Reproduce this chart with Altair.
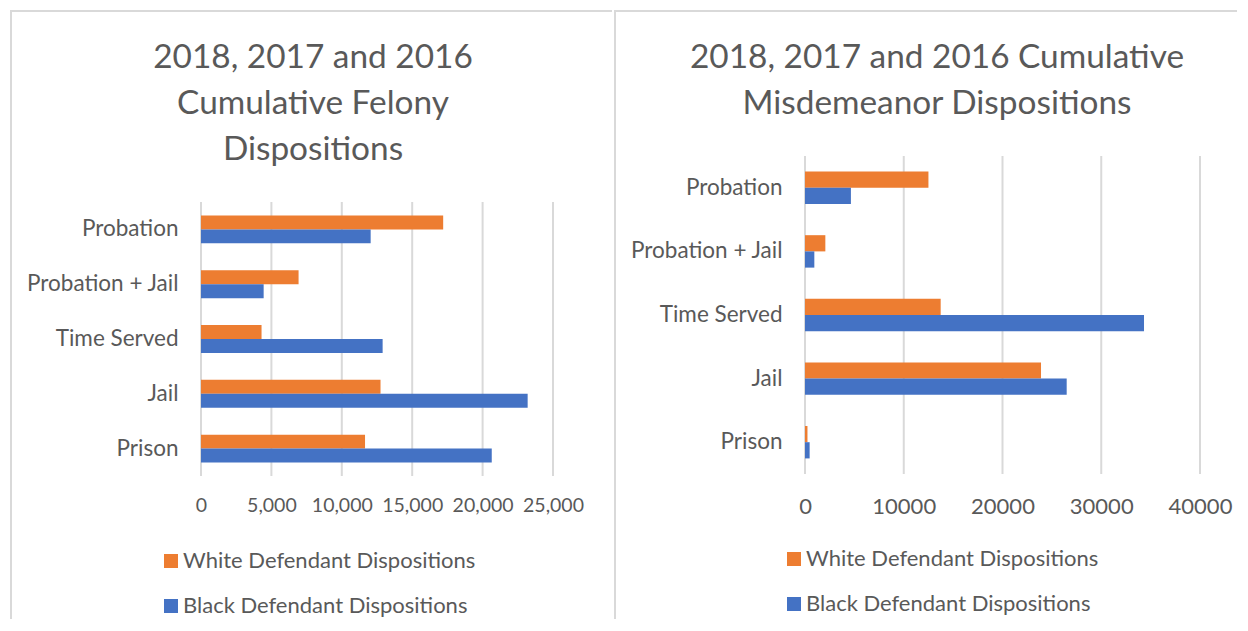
import altair as alt
import pandas as pd

FONT = "Lato"
TEXT = "#595959"
GRID = "#d9d9d9"

categories = ["Probation", "Probation + Jail", "Time Served", "Jail", "Prison"]
series = ["White Defendant Dispositions", "Black Defendant Dispositions"]
colors = ["#ED7D31", "#4472C4"]

felony_white = [17200, 6930, 4300, 12750, 11650]
felony_black = [12050, 4450, 12900, 23200, 20650]
misd_white = [12500, 2060, 13740, 23900, 250]
misd_black = [4650, 945, 34330, 26500, 470]

felony_title = ["2018, 2017 and 2016", "Cumulative  Felony", "Dispositions"]
misd_title = ["2018, 2017 and 2016 Cumulative", "Misdemeanor Dispositions"]

felony_ticks = [0, 5000, 10000, 15000, 20000, 25000]
misd_ticks = [0, 10000, 20000, 30000, 40000]


def table(white, black):
    rows = []
    for c, v in zip(categories, white):
        rows.append({"category": c, "series": series[0], "value": v})
    for c, v in zip(categories, black):
        rows.append({"category": c, "series": series[1], "value": v})
    return pd.DataFrame(rows)


one = pd.DataFrame({"k": [0]})


def panel(df, w, h, y0, ticks, fmt, xfs, title, tx, ty, lx, ly, box, lpad_x):
    left, top, right, bottom = box
    xscale = alt.Scale(domain=[ticks[0], ticks[-1]], nice=False)
    grid = alt.Chart(pd.DataFrame({"value": ticks})).mark_rule(
        color=GRID, strokeWidth=2).encode(
        x=alt.X("value:Q", scale=xscale),
        y=alt.value(y0), y2=alt.value(h))
    bars = alt.Chart(df).mark_bar().encode(
        y=alt.Y("category:N", sort=categories,
                scale=alt.Scale(paddingInner=0.49, paddingOuter=0.245,
                                range=[y0, h]),
                axis=alt.Axis(title=None, labelFontSize=22.5, labelFont=FONT,
                              labelColor=TEXT, labelPadding=23, ticks=False,
                              tickSize=0, domain=False, grid=False,
                              labelLimit=400)),
        yOffset=alt.YOffset("series:N", sort=series,
                            scale=alt.Scale(paddingInner=0, paddingOuter=0)),
        x=alt.X("value:Q", scale=xscale,
                axis=alt.Axis(title=None, values=ticks, format=fmt,
                              labelFontSize=xfs, labelFont=FONT, labelColor=TEXT,
                              labelPadding=lpad_x, ticks=False, tickSize=0,
                              domain=False, grid=False, labelFlush=False,
                              labelOverlap=False)),
        color=alt.Color("series:N", sort=series,
                        scale=alt.Scale(domain=series, range=colors),
                        legend=alt.Legend(title=None, orient="none",
                                          legendX=lx, legendY=ly,
                                          direction="vertical",
                                          symbolType="square", symbolSize=196,
                                          symbolStrokeWidth=0,
                                          labelFontSize=22, labelFont=FONT,
                                          labelColor=TEXT, rowPadding=23,
                                          labelOffset=1, labelLimit=500)),
    )
    top_line = alt.Chart(one).mark_rule(color=GRID, strokeWidth=2).encode(
        x=alt.value(left), x2=alt.value(right), y=alt.value(top))
    left_line = alt.Chart(one).mark_rule(color=GRID, strokeWidth=2).encode(
        x=alt.value(left + 1), y=alt.value(top), y2=alt.value(bottom))
    ttl = alt.Chart(one).mark_text(text=title, font=FONT, fontSize=33.4,
                                   color=TEXT, lineHeight=46, align="center",
                                   baseline="middle").encode(
        x=alt.value(tx), y=alt.value(ty))
    return alt.layer(grid, bars, top_line, left_line, ttl).properties(
        width=w, height=h)


# both plot areas start at page y = 156
left_panel = panel(table(felony_white, felony_black), 352, 320, 46,
                   felony_ticks, ",d", 19.5,
                   felony_title, 112, -98, -41, 394,
                   (-191, -145, 411, 463), 20)
right_panel = panel(table(misd_white, misd_black), 395, 318, 0,
                    misd_ticks, "d", 22,
                    misd_title, 132, -98, -22, 392,
                    (-191, -145, 432, 463), 22)

chart = alt.hconcat(left_panel, right_panel, spacing=0).resolve_scale(
    x="independent", y="independent", color="independent", yOffset="independent"
).resolve_legend(color="independent").properties(
    padding={"left": 1, "top": 2, "right": 0, "bottom": 0}
).configure_view(stroke=None)

chart.save("out.html", embed_options={"renderer": "svg", "actions": False})
